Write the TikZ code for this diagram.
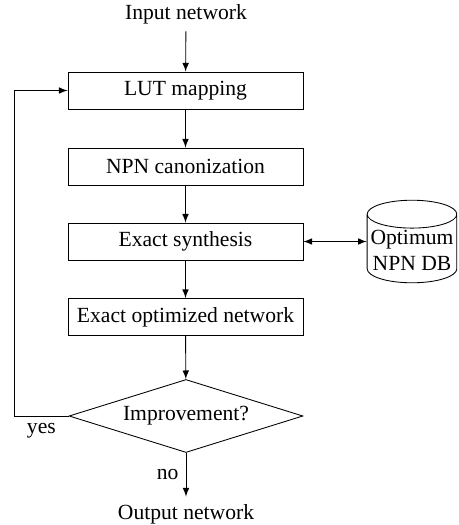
\documentclass[tikz,border=0pt]{standalone}
\usepackage{fontspec}
\setmainfont{Liberation Serif}
\usepackage{tikz}
\usetikzlibrary{shapes, shapes.geometric, arrows, positioning, calc}

\begin{document}
\begin{tikzpicture}[x=0.463pt, y=-0.463pt, >=latex,
	block/.style={draw, rectangle, minimum width=108.8pt, minimum height=17.1pt},
	decision/.style={draw, diamond, aspect=3, inner sep=0pt, minimum width=108.3pt, minimum height=33.8pt},
	store/.style={draw, cylinder, shape border rotate=90, aspect=0.32, inner sep=1pt, minimum width=41.5pt, minimum height=37.5pt, align=center}]
			
			\useasboundingbox (0,0) rectangle (459,525);
			
			\node (in) at (186, 14) {Input network};
			
			\foreach \name/\y/\txt in {lut/90.5/LUT mapping, npn/166.5/NPN canonization, exact/241.5/Exact synthesis, opt/317/Exact optimized network}
			\node [block] (\name) at (185.5, \y) {\txt};
			
			\node [decision] (imp) at (186, 416) {Improvement?};
			\node (out) at (186, 514) {Output network};
			\node [store, anchor=shape center] (db) at (412, 241.5) {Optimum\\NPN DB};
			
			\draw [->] (in) -- (lut);
			\draw [->] (lut) -- (npn);
			\draw [->] (npn) -- (exact);
			\draw [->] (exact) -- (opt);
			\draw [->] (opt) -- (imp);
			\draw [<->] (exact.east) -- (exact.east -| db.west);
			\draw [->] (imp.south) -- node [left] {no} (out);
			\draw [->] (imp.west) -- node [below] {yes} ++(-54.5, 0) |- (lut.west);
			\end{tikzpicture}
\end{document}
